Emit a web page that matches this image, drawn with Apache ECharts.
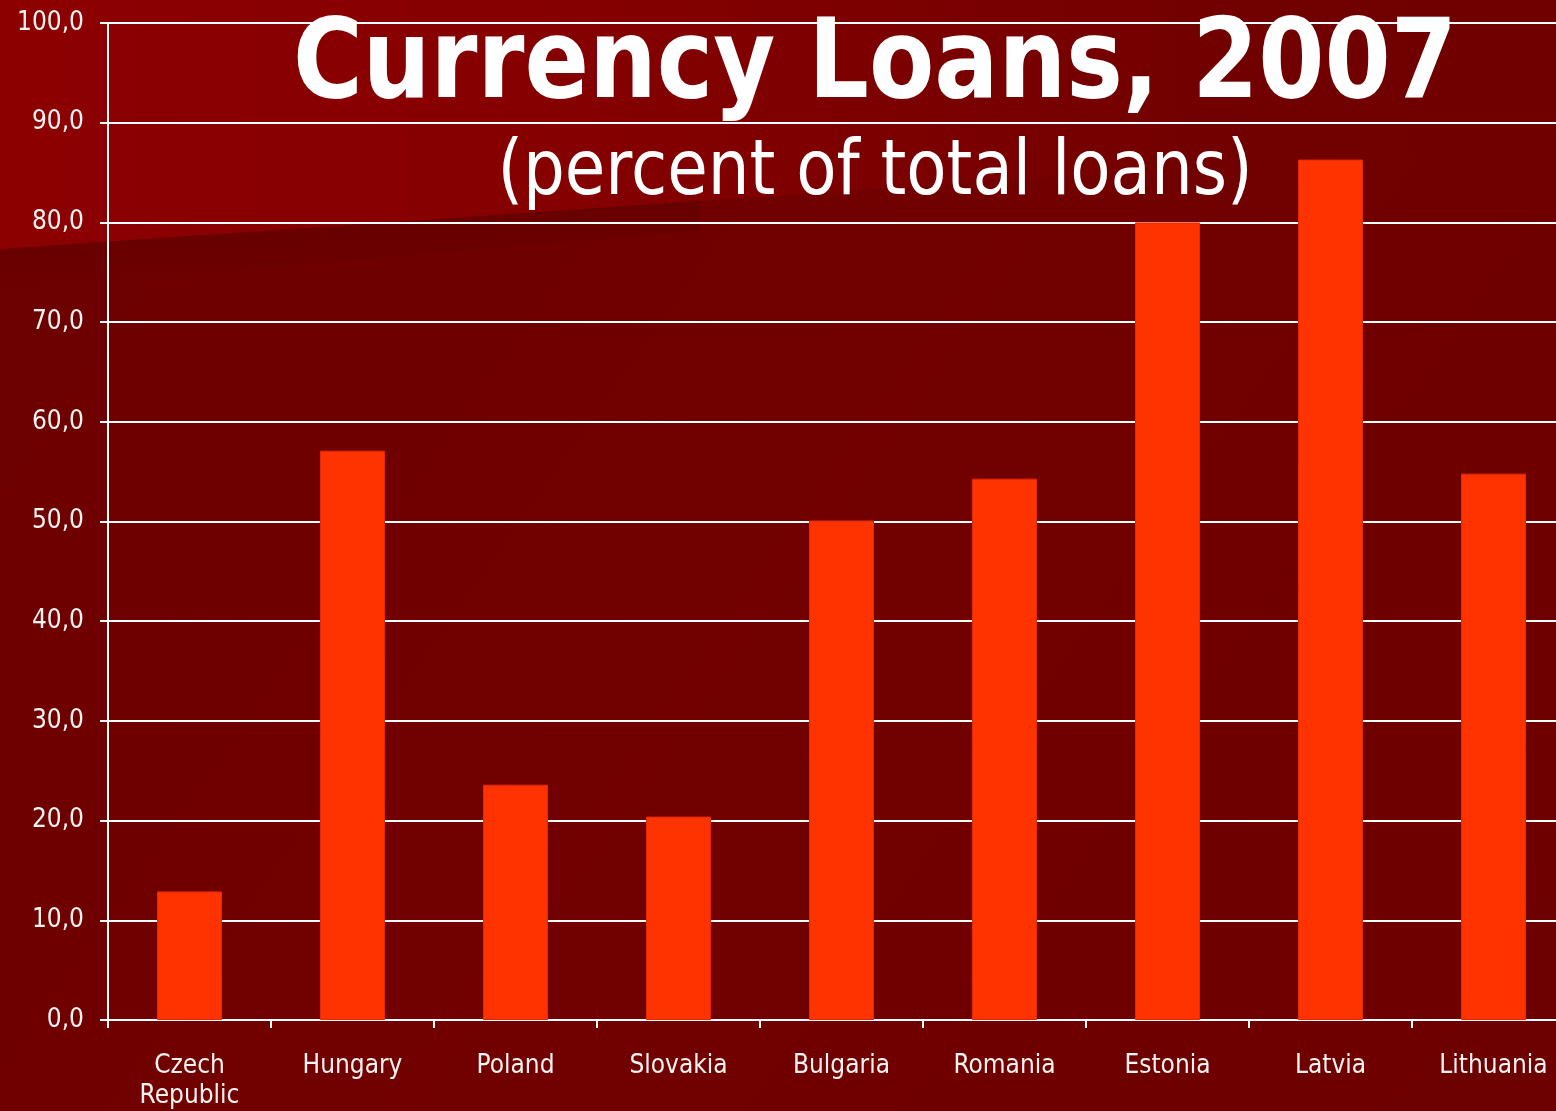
<!DOCTYPE html>
<html>
<head>
<meta charset="utf-8">
<title>Currency Loans, 2007</title>
<script src="https://cdn.jsdelivr.net/npm/echarts@6/dist/echarts.min.js"></script>
<style>
  html, body { margin: 0; padding: 0; background: #700000; overflow: hidden; }
  /* the plot runs a little past the right edge of the page, so the last column is cut */
  #chart { width: 1575px; height: 1111px; }
</style>
</head>
<body>
<div id="chart"></div>
<script>
// Share of foreign-currency loans in total loans, 2007 (percent)
const countries = ['Czech Republic', 'Hungary', 'Poland', 'Slovakia', 'Bulgaria', 'Romania', 'Estonia', 'Latvia', 'Lithuania'];
const loanShare = [12.9, 57.1, 23.6, 20.4, 50.1, 54.3, 80.0, 86.3, 54.8];
const titleText = 'Currency Loans, 2007';
const subtitleText = '(percent of total loans)';

const labelFont = '"DejaVu Sans Condensed", "DejaVu Sans", sans-serif';
const labelColor = '#fbf2f2';
const W = 1575;

const chart = echarts.init(document.getElementById('chart'), null, { renderer: 'canvas' });

chart.setOption({
  animation: false,
  backgroundColor: {
    type: 'linear', x: 0, y: 0, x2: 1, y2: 1,
    colorStops: [
      { offset: 0, color: '#6c0000' },
      { offset: 0.5, color: '#720000' },
      { offset: 1, color: '#6d0000' }
    ]
  },
  graphic: [
    {
      // lighter wedge across the top-left corner
      type: 'polygon',
      z: -10,
      silent: true,
      shape: { points: [[0, 0], [W, 0], [W, 141], [0, 249]] },
      style: {
        fill: {
          type: 'linear', x: 0, y: 0, x2: 1, y2: 0,
          colorStops: [
            { offset: 0, color: '#8c0000' },
            { offset: 0.35, color: '#860000' },
            { offset: 0.6, color: '#7a0000' },
            { offset: 0.8, color: '#710000' },
            { offset: 1, color: '#700000' }
          ]
        }
      }
    },
    {
      // soft shadow under the wedge edge
      type: 'polygon',
      z: -9,
      silent: true,
      shape: { points: [[0, 249], [700, 201], [700, 231], [0, 290]] },
      style: {
        fill: {
          type: 'linear', x: 0, y: 0, x2: 0, y2: 1,
          colorStops: [
            { offset: 0, color: 'rgba(80,0,0,0.3)' },
            { offset: 1, color: 'rgba(80,0,0,0)' }
          ]
        }
      }
    },
    {
      type: 'text',
      z: 100,
      x: 875,
      y: 68,
      scaleX: 0.865,
      style: {
        text: titleText,
        font: 'bold 110px "DejaVu Sans", sans-serif',
        fill: '#ffffff',
        textAlign: 'center',
        textVerticalAlign: 'middle'
      }
    },
    {
      type: 'text',
      z: 100,
      x: 875,
      y: 174,
      scaleX: 0.855,
      style: {
        text: subtitleText,
        font: '77px "DejaVu Sans", sans-serif',
        fill: '#ffffff',
        textAlign: 'center',
        textVerticalAlign: 'middle'
      }
    }
  ],
  grid: { left: 108, top: 23, right: 0, bottom: 88, containLabel: false },
  xAxis: {
    type: 'category',
    data: countries,
    boundaryGap: true,
    axisLine: { show: true, lineStyle: { color: '#ffffff', width: 2 } },
    axisTick: { show: true, length: 8, alignWithLabel: false, lineStyle: { color: '#ffffff', width: 2 } },
    axisLabel: {
      color: labelColor,
      fontFamily: labelFont,
      fontSize: 26,
      lineHeight: 30,
      margin: 31,
      interval: 0,
      formatter: v => v.replace(' ', '\n')
    },
    splitLine: { show: false }
  },
  yAxis: {
    type: 'value',
    min: 0,
    max: 100,
    interval: 10,
    axisLine: { show: true, lineStyle: { color: '#ffffff', width: 2 } },
    axisTick: { show: true, length: 8, lineStyle: { color: '#ffffff', width: 2 } },
    axisLabel: {
      color: labelColor,
      fontFamily: labelFont,
      fontSize: 26,
      margin: 24,
      formatter: v => v.toFixed(1).replace('.', ',')
    },
    splitLine: { show: true, lineStyle: { color: '#ffffff', width: 2 } }
  },
  series: [
    {
      type: 'bar',
      data: loanShare,
      barWidth: 65,
      itemStyle: { color: '#ff3300', borderColor: '#e02a08', borderWidth: 1 }
    }
  ]
});
</script>
</body>
</html>
